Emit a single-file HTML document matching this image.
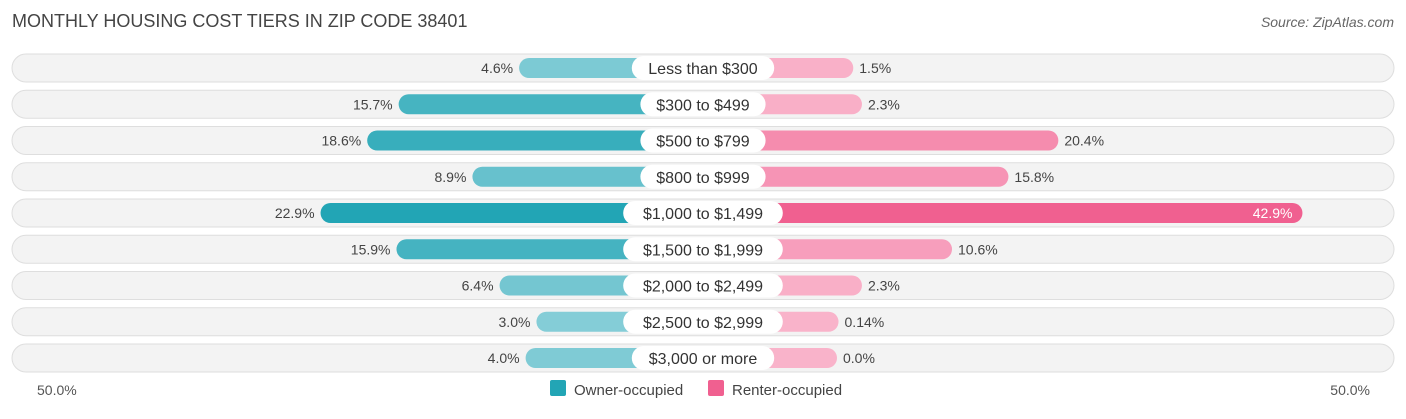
<!DOCTYPE html>
<html><head><meta charset="utf-8"><style>
body{margin:0;width:1406px;height:414px;background:#fff;font-family:"Liberation Sans",sans-serif;overflow:hidden}
svg text{font-family:"Liberation Sans",sans-serif}
</style></head><body>
<svg id="c" width="1406" height="414">
<text x="12" y="27" font-size="18" fill="#444">MONTHLY HOUSING COST TIERS IN ZIP CODE 38401</text>
<text x="1394" y="27" font-size="14" fill="#666" font-style="italic" text-anchor="end">Source: ZipAtlas.com</text>
<text x="37" y="395" font-size="14" fill="#555">50.0%</text>
<text x="1370" y="395" font-size="14" fill="#555" text-anchor="end">50.0%</text>
<rect x="550" y="380" width="16" height="16" rx="2" fill="#22a5b5"/>
<text x="574" y="395" font-size="15" fill="#444">Owner-occupied</text>
<rect x="708" y="380" width="16" height="16" rx="2" fill="#f06090"/>
<text x="732" y="395" font-size="15" fill="#444">Renter-occupied</text>
<g id="rows"></g>
</svg>
<script>
const categories=["Less than $300","$300 to $499","$500 to $799","$800 to $999","$1,000 to $1,499","$1,500 to $1,999","$2,000 to $2,499","$2,500 to $2,999","$3,000 or more"];
const ownerValues=[4.6,15.7,18.6,8.9,22.9,15.9,6.4,3.0,4.0];
const renterValues=[1.5,2.3,20.4,15.8,42.9,10.6,2.3,0.14,0.0];
const ownerLabels=["4.6%","15.7%","18.6%","8.9%","22.9%","15.9%","6.4%","3.0%","4.0%"];
const renterLabels=["1.5%","2.3%","20.4%","15.8%","42.9%","10.6%","2.3%","0.14%","0.0%"];
const NS="http://www.w3.org/2000/svg";
const cx=703, base=134, scale=10.85, y0=68, step=36.25, bh=20;
function w(v){return base+scale*v;}
function mix(a,b,t){const p=s=>[1,3,5].map(i=>parseInt(s.substr(i,2),16));const A=p(a),B=p(b);return "rgb("+A.map((x,i)=>Math.round(x+(B[i]-x)*t)).join(",")+")";}
const g=document.getElementById('rows');
function mk(tag,attrs,parent){const e=document.createElementNS(NS,tag);for(const k in attrs)e.setAttribute(k,attrs[k]);(parent||g).appendChild(e);return e;}
const maxV=Math.max(...ownerValues,...renterValues);
categories.forEach((cat,i)=>{
  const y=y0+i*step;
  const row=mk('g',{});
  
  
  const bg=mk('rect',{x:12,y:y-14,width:1382,height:28,rx:14,fill:'#f3f3f3',stroke:'#dedede','stroke-width':1},row);
  
  
  const ow=w(ownerValues[i]);
  const ob=mk('rect',{x:cx-ow,y:y-bh/2,width:ow,height:bh,rx:10,fill:mix('#93d3dc','#22a5b5',Math.min(1,ownerValues[i]/23))},row);
  
  
  const rw=w(renterValues[i]);
  const rb=mk('rect',{x:cx,y:y-bh/2,width:rw,height:bh,rx:10,fill:mix('#f9b3ca','#f06090',Math.min(1,renterValues[i]/maxV))},row);
  
  
  const ot=mk('text',{x:cx-ow-6,y:y+5,'font-size':14,fill:'#444','text-anchor':'end'},row);
  ot.textContent=ownerLabels[i];
  
  
  const inside=renterValues[i]>35;
  const rt=mk('text',{x:inside?cx+rw-10:cx+rw+6,y:y+5,'font-size':14,fill:inside?'#fff':'#444','text-anchor':inside?'end':'start'},row);
  rt.textContent=renterLabels[i];
  
  
  const lw=cat.length*8.6+22;
  const pill=mk('rect',{x:cx-lw/2,y:y-12,width:lw,height:24,rx:12,fill:'#fff'},row);
  
  
  const lt=mk('text',{x:cx,y:y+6,'font-size':16,fill:'#333','text-anchor':'middle'},row);
  lt.textContent=cat;
  
  
});
</script>
</body></html>
